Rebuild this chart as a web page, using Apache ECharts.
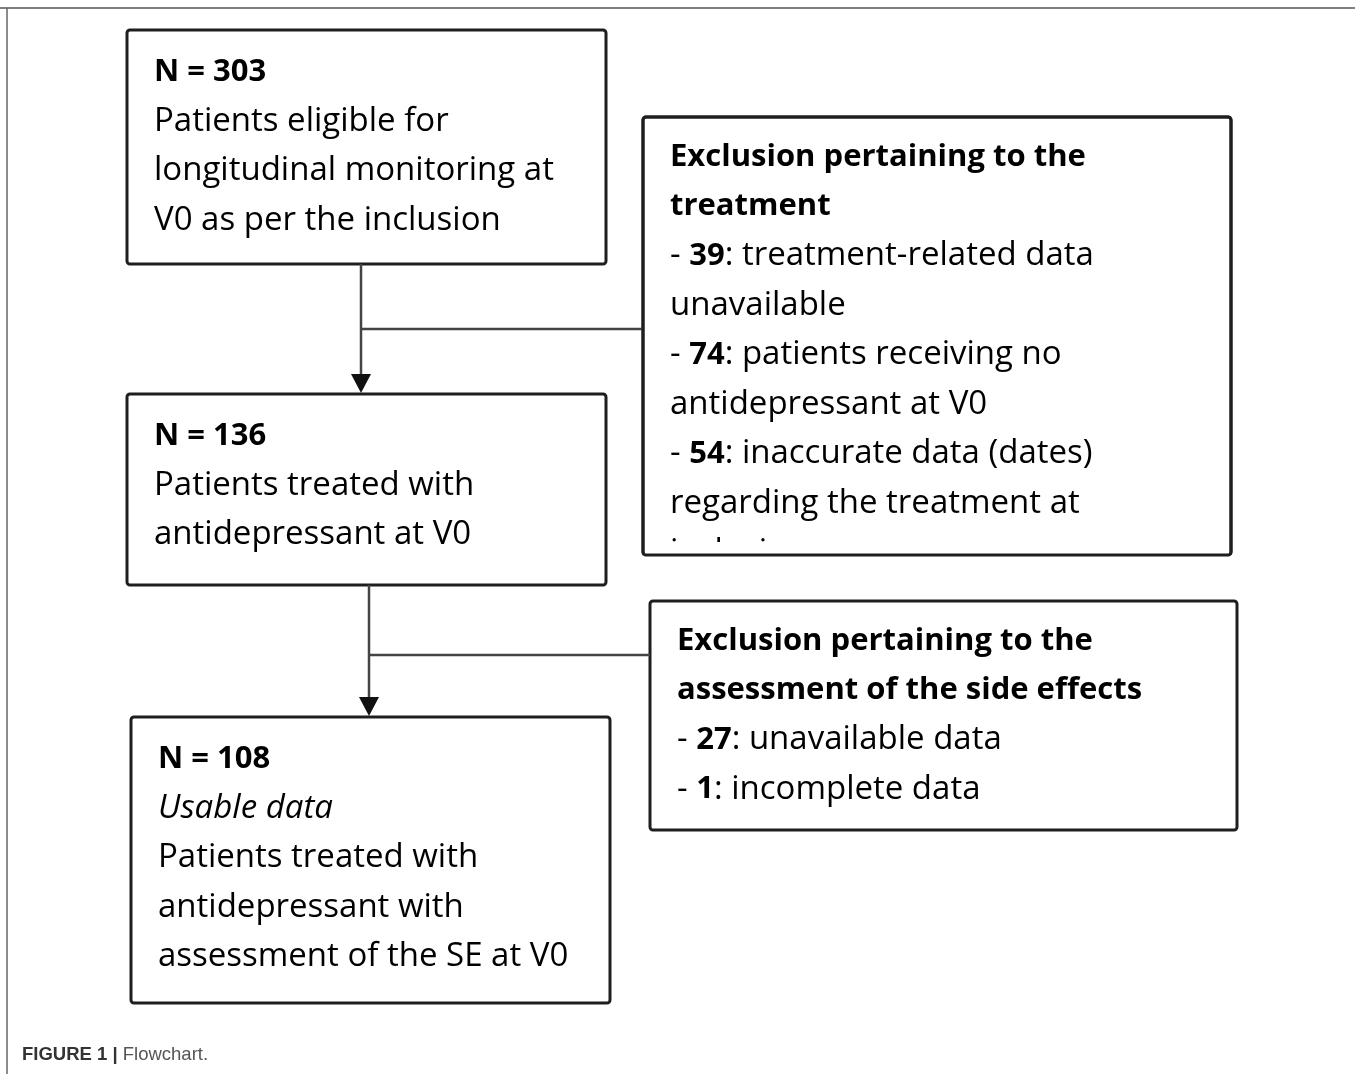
<!DOCTYPE html>
<html>
<head>
<meta charset="utf-8">
<script src="https://cdn.jsdelivr.net/npm/echarts@6/dist/echarts.min.js"></script>
<style>
  html, body { margin: 0; padding: 0; background: #fff; }
  #chart { width: 1355px; height: 1074px; }
</style>
</head>
<body>
<div id="chart"></div>
<script>
// flow counts
const stageCounts = [303, 136, 108];
const stageLines = [
  ["Patients eligible for", "longitudinal monitoring at", "V0 as per the inclusion"],
  ["Patients treated with", "antidepressant at V0"],
  ["Patients treated with", "antidepressant with", "assessment of the SE at V0"]
];
const stageNote = ["", "", "Usable data"];

const exclTitles = [
  ["Exclusion pertaining to the", "treatment"],
  ["Exclusion pertaining to the", "assessment of the side effects"]
];
const exclCounts = [[39, 74, 54], [27, 1]];
const exclReasons = [
  [["treatment-related data", "unavailable"], ["patients receiving no", "antidepressant at V0"], ["inaccurate data (dates)", "regarding the treatment at", "inclusion"]],
  [["unavailable data"], ["incomplete data"]]
];

const FONT = "'Open Sans', Lato, sans-serif";
const FS_B = 31;
const FS_N = 33;
const LH = 49.5;
const INK = "#000";
const EDGE = "#1e1e1e";

const chart = echarts.init(document.getElementById("chart"));

// box layout [x, y, w, h]
const stageBoxes = [[127, 30, 479, 234], [127, 394, 479, 191], [131, 717, 479, 286]];
const exclBoxes = [[643, 117, 588, 438], [650, 601, 587, 229]];

const rich = {
  b: {fontFamily: FONT, fontSize: FS_B, fontWeight: "bold", lineHeight: LH, fill: INK},
  i: {fontFamily: FONT, fontSize: FS_N, fontStyle: "italic", lineHeight: LH, fill: INK},
  n: {fontFamily: FONT, fontSize: FS_N, lineHeight: LH, fill: INK}
};

function boxRect(b) {
  return {
    type: "rect",
    shape: {x: b[0], y: b[1], width: b[2], height: b[3], r: 3},
    style: {fill: "#fff", stroke: EDGE, lineWidth: 3},
    z: 1
  };
}

function boxText(x, y, txt) {
  return {
    type: "text",
    x: x, y: y,
    style: {text: txt, rich: rich, fontFamily: FONT, fontSize: FS_N, lineHeight: LH, fill: INK, verticalAlign: "top", align: "left"},
    z: 3
  };
}

const elements = [];

// figure frame
elements.push({type: "line", shape: {x1: 0, y1: 8, x2: 1355, y2: 8}, style: {stroke: "#555", lineWidth: 1.5}});
elements.push({type: "line", shape: {x1: 7, y1: 8, x2: 7, y2: 1074}, style: {stroke: "#666", lineWidth: 1.5}});

// connectors
const conn = [
  {x: 361, y1: 264, y2: 393, hy: 329, hx: 643},
  {x: 369, y1: 585, y2: 716, hy: 655, hx: 650}
];
conn.forEach(function (c) {
  elements.push({type: "line", shape: {x1: c.x, y1: c.y1, x2: c.x, y2: c.y2 - 18}, style: {stroke: "#444", lineWidth: 2.5}, z: 2});
  elements.push({type: "line", shape: {x1: c.x, y1: c.hy, x2: c.hx, y2: c.hy}, style: {stroke: "#444", lineWidth: 2.5}, z: 2});
  elements.push({type: "polygon", shape: {points: [[c.x - 10, c.y2 - 19], [c.x + 10, c.y2 - 19], [c.x, c.y2]]}, style: {fill: "#111"}, z: 2});
});

// stage boxes
stageBoxes.forEach(function (b, k) {
  elements.push(boxRect(b));
  let lines = ["{b|N = " + stageCounts[k] + "}"];
  if (stageNote[k]) lines.push("{i|" + stageNote[k] + "}");
  stageLines[k].forEach(function (l) { lines.push("{n|" + l + "}"); });
  elements.push(boxText(b[0] + 27, b[1] + 17, lines.join("\n")));
});

// exclusion boxes
exclBoxes.forEach(function (b, k) {
  elements.push(boxRect(b));
  let lines = exclTitles[k].map(function (t) { return "{b|" + t + "}"; });
  exclCounts[k].forEach(function (cnt, j) {
    const r = exclReasons[k][j];
    lines.push("{n|- }{b|" + cnt + "}{n|: " + r[0] + "}");
    for (let m = 1; m < r.length; m++) lines.push("{n|" + r[m] + "}");
  });
  elements.push(boxText(b[0] + 27, b[1] + 15, lines.join("\n")));
});

// cut-off overflow inside the first exclusion box
elements.push({type: "rect", shape: {x: 645, y: 542, width: 584, height: 12}, style: {fill: "#fff"}, z: 4});
elements.push({type: "rect", shape: {x: 643, y: 555, width: 590, height: 30}, style: {fill: "#fff"}, z: 4});
elements.push({
  type: "rect",
  shape: {x: exclBoxes[0][0], y: exclBoxes[0][1], width: exclBoxes[0][2], height: exclBoxes[0][3], r: 3},
  style: {fill: "none", stroke: EDGE, lineWidth: 3},
  z: 5
});

// caption
elements.push({
  type: "text",
  x: 22, y: 1055,
  style: {
    text: "{f|FIGURE 1 | }{c|Flowchart.}",
    rich: {
      f: {fontFamily: "'Liberation Sans', Arial, sans-serif", fontSize: 18.5, fontWeight: "bold", fill: "#333"},
      c: {fontFamily: "'Liberation Sans', Arial, sans-serif", fontSize: 18.5, fill: "#555"}
    },
    verticalAlign: "middle"
  },
  z: 3
});

chart.setOption({
  backgroundColor: "#fff",
  animation: false,
  graphic: {elements: elements}
});
</script>
</body>
</html>
